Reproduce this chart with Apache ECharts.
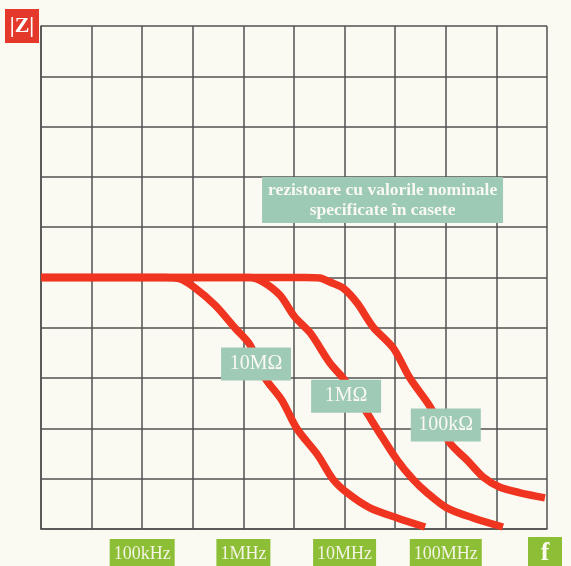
<!DOCTYPE html>
<html>
<head>
<meta charset="utf-8">
<script src="https://cdn.jsdelivr.net/npm/echarts@6/dist/echarts.min.js"></script>
<style>
html, body { margin: 0; padding: 0; background: #fbfaf2; }
#chart { width: 571px; height: 566px; }
</style>
</head>
<body>
<div id="chart"></div>
<script>
// grid units: x = 10 columns (2 per decade), y = 10 rows
var freqTickValues = [2, 4, 6, 8];
var freqTickLabels = ['100kHz', '1MHz', '10MHz', '100MHz'];

var curve10M = [[0, 5], [2.45, 5], [2.75, 4.97], [3.02, 4.81], [3.44, 4.45], [3.83, 4.0], [4.13, 3.66],
    [4.43, 3.0], [4.76, 2.56], [5.06, 1.99], [5.47, 1.47], [5.77, 0.99], [6.05, 0.72], [6.5, 0.42],
    [7.04, 0.22], [7.59, 0.04]];
var curve1M = [[0, 5], [4.13, 5], [4.39, 4.91], [4.72, 4.65], [5.02, 4.21], [5.32, 3.9], [5.71, 3.3],
    [5.97, 3.0], [6.21, 2.66], [6.44, 2.31], [6.64, 1.99], [7.04, 1.37], [7.35, 0.99], [7.63, 0.72],
    [8.02, 0.42], [8.54, 0.22], [9.13, 0.04]];
var curve100k = [[0, 5], [5.22, 5], [5.51, 4.99], [5.71, 4.91], [5.97, 4.79], [6.25, 4.49], [6.56, 4.02],
    [6.96, 3.6], [7.29, 3.0], [7.69, 2.43], [8.08, 1.71], [8.42, 1.37], [8.74, 1.03], [9.07, 0.83],
    [9.47, 0.72], [9.96, 0.62]];

var resLabels = ['10MΩ', '1MΩ', '100kΩ'];
var noteLines = ['rezistoare cu valorile nominale', 'specificate în casete'];

// where the boxes sit, in grid units
var resLabelAnchors = [[4.25, 3.28], [6.03, 2.64], [8.0, 2.07]];
var noteAnchor = [6.75, 6.54];

var serif = 'Liberation Serif';
var red = '#ef3420';
var gridColor = '#505050';

var chart = echarts.init(document.getElementById('chart'));

function curve(name, data) {
    return {
        name: name,
        type: 'line',
        data: data,
        symbol: 'none',
        smooth: 0.3,
        lineStyle: { color: red, width: 7.5, cap: 'butt' },
        z: 3
    };
}

var option = {
    animation: false,
    backgroundColor: '#fbfaf2',
    grid: { left: 41, right: 24, top: 26, bottom: 37, containLabel: false, outerBoundsMode: 'none' },
    xAxis: {
        type: 'value', min: 0, max: 10, interval: 1,
        name: '{f|f}',
        nameLocation: 'end',
        nameGap: -2,
        nameTextStyle: {
            align: 'center', verticalAlign: 'top', padding: [8, 0, 0, 0],
            rich: {
                f: {
                    backgroundColor: '#8cbf35', color: '#fbfbf0', fontFamily: serif,
                    fontSize: 26, fontWeight: 'bold', width: 34, height: 32, lineHeight: 32, align: 'center'
                }
            }
        },
        axisLine: { show: true, lineStyle: { color: gridColor, width: 1.5 } },
        axisTick: { show: false },
        splitLine: { show: true, lineStyle: { color: gridColor, width: 1.5 } },
        axisLabel: {
            margin: 17,
            formatter: function (v) {
                var i = freqTickValues.indexOf(v);
                return i < 0 ? '' : '{b|' + freqTickLabels[i] + '}';
            },
            rich: {
                b: {
                    backgroundColor: '#8cbf35', color: '#f4f3e4', fontFamily: serif,
                    fontSize: 18, lineHeight: 18, padding: [6, 4, 8, 4]
                }
            }
        }
    },
    yAxis: {
        type: 'value', min: 0, max: 10, interval: 1,
        name: '{z||Z|}',
        nameLocation: 'end',
        nameGap: 0,
        nameTextStyle: {
            align: 'right', verticalAlign: 'middle', padding: [0, 2, 0, 0],
            rich: {
                z: {
                    backgroundColor: '#e4392a', color: '#ffffff', fontFamily: serif,
                    fontSize: 22, fontWeight: 'bold', width: 34, height: 34, lineHeight: 34, align: 'center'
                }
            }
        },
        axisLine: { show: true, lineStyle: { color: gridColor, width: 1.5 } },
        axisTick: { show: false },
        axisLabel: { show: false },
        splitLine: { show: true, lineStyle: { color: gridColor, width: 1.5 } }
    },
    series: [
        curve('10MΩ', curve10M),
        curve('1MΩ', curve1M),
        curve('100kΩ', curve100k),
        {
            name: 'labels',
            type: 'scatter',
            symbolSize: 1,
            itemStyle: { color: 'transparent', opacity: 1 },
            z: 5,
            data: resLabelAnchors.map(function (p, i) {
                return { value: p, name: resLabels[i] };
            }),
            label: {
                show: true, position: 'inside', formatter: '{b}',
                backgroundColor: '#9fcab6', color: '#f9f9f2', fontFamily: serif,
                fontSize: 20, width: 58, height: 33, lineHeight: 33, align: 'center', padding: [0, 6]
            }
        },
        {
            name: 'note',
            type: 'scatter',
            symbolSize: 1,
            itemStyle: { color: 'transparent', opacity: 1 },
            z: 5,
            data: [{ value: noteAnchor, name: 'note' }],
            label: {
                show: true, position: 'inside',
                formatter: noteLines.join('\n'),
                backgroundColor: '#9dcab5', color: '#f9f9f2', fontFamily: serif,
                fontSize: 17.5, fontWeight: 'bold', width: 229, lineHeight: 20, align: 'center', padding: [3, 6]
            }
        }
    ]
};

chart.setOption(option);
</script>
</body>
</html>
